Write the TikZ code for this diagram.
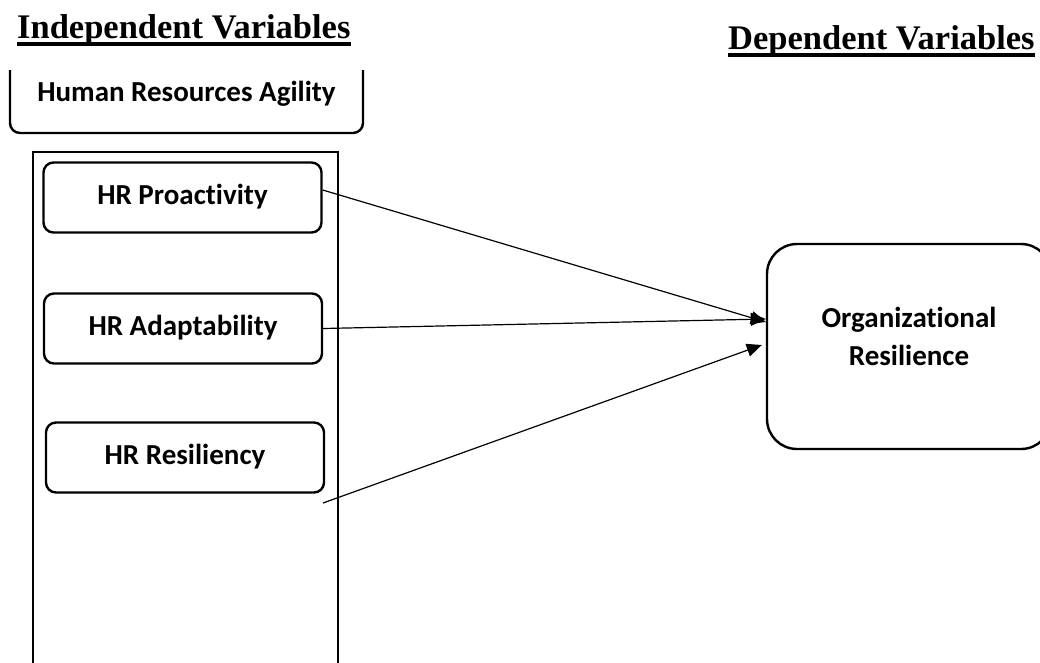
\documentclass[tikz,border=0pt]{standalone}
\usepackage{fontspec}
\setmainfont{Liberation Serif}
\newfontfamily\calib{Carlito}[Ligatures={NoCommon,NoContextual}, Contextuals=NoAlternate]
\usetikzlibrary{arrows.meta,calc}
\tikzset{
  titletxt/.style={inner sep=0pt, anchor=base west, font=\bfseries\fontsize{34.5}{40}\selectfont},
  lbl/.style={inner sep=0pt, font=\calib\bfseries\fontsize{29}{38}\selectfont},
  subbox/.style={draw, line width=2.4pt, rounded corners=10pt, minimum width=278pt, minimum height=70pt,
     inner sep=0pt, text height=20pt, text depth=6pt, font=\calib\bfseries\fontsize{29}{38}\selectfont},
  bigbox/.style={draw, line width=2.4pt, rounded corners=30pt, minimum width=284pt, minimum height=205pt, inner sep=0pt},
  frame/.style={line width=2.4pt},
  uline/.style={line width=3.5pt},
  arr/.style={line width=1.2pt, -{Triangle[length=15pt, width=13pt]}}
}
\begin{document}
\begin{tikzpicture}[x=1pt, y=-1pt]
\useasboundingbox[fill=white] (0,0) rectangle (1040,662);
% titles
\node[titletxt] (tin) at (17,38) {Independent Variables};
\draw[uline] ($(tin.base west)+(0,6)$) -- ($(tin.base east)+(0,6)$);
\node[titletxt] (tdep) at (728,49.5) {Dependent Variables};
\draw[uline] ($(tdep.base west)+(0,5.5)$) -- ($(tdep.base east)+(0,5.5)$);
% Human Resources Agility (open top)
\draw[frame, rounded corners=10pt] (10,70) -- (10,133) -- (363,133) -- (363,70);
\node[lbl, anchor=base] (hra) at (186.5,101) {Human Resources Agility};
% tall frame (open bottom)
\draw[frame] (33,670) -- (33,152) -- (338,152) -- (338,670);
% sub boxes
\node[subbox] (pro) at (182.5,197.5) {HR Proactivity};
\node[subbox] (ada) at (183,328.5) {HR Adaptability};
\node[subbox] (res) at (185,457.5) {HR Resiliency};
% dependent box
\node[bigbox] (org) at (909,346.5) {};
\node[lbl, align=center] (orgt) at (909,336) {Organizational\\Resilience};
% arrows
\coordinate (r3) at (323,503);
\draw[arr] ([yshift=7.5pt]pro.east) -- ([yshift=24.5pt]org.west);
\draw[arr] (ada.east) -- ([yshift=27.5pt]org.west);
\draw[arr] (r3) -- ([xshift=-4pt, yshift=1.5pt]org.west);
\end{tikzpicture}
\end{document}
